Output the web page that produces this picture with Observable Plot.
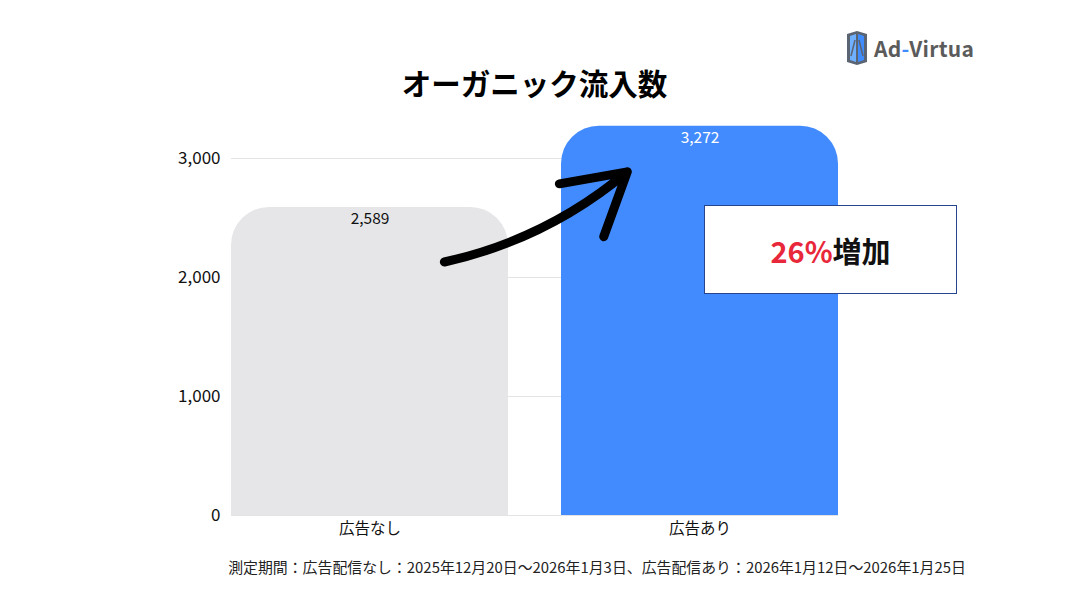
<!DOCTYPE html>
<html>
<head>
<meta charset="utf-8">
<script src="https://cdn.jsdelivr.net/npm/d3@7"></script>
<script src="https://cdn.jsdelivr.net/npm/@observablehq/plot@0.6"></script>
<style>
  html, body { margin: 0; padding: 0; background: #fff; }
  body { font-family: "Noto Sans CJK JP", "Noto Sans", sans-serif; }
  #wrap { position: relative; width: 1069px; height: 591px; overflow: hidden; }
  #chart { position: absolute; left: 0; top: 0; }
  #title { position: absolute; left: 0; top: 64px; width: 1069px; text-align: center;
           font-size: 29.5px; font-weight: 700; line-height: 36px; color: #000; }
  #caption { position: absolute; left: 0; top: 556px; width: 1194px; text-align: center;
             font-size: 14.9px; line-height: 22px; color: #222; }
  #callout { position: absolute; left: 704px; top: 205px; width: 253px; height: 89px;
             box-sizing: border-box; border: 1.6px solid #27458f; background: #fff;
             display: flex; align-items: center; justify-content: center;
             font-size: 29px; font-weight: 700; color: #111; }
  #callout .pct { color: #e8283a; }
  #logo { position: absolute; left: 844px; top: 30px; display: flex; align-items: center; }
  #logo .txt { font-family: "Noto Sans CJK JP", sans-serif; font-weight: 700; font-size: 21px;
               color: #5b5b5b; margin-left: 4px; letter-spacing: 0.3px; }
  #logo .dash { color: #3f8cff; }
</style>
</head>
<body>
<div id="wrap">
  <div id="chart"></div>
  <div id="title"></div>
  <div id="logo">
    <svg width="26" height="36" viewBox="0 0 26 36">
      <polygon points="3,4 13,1 23,4 23,32 13,35 3,32" fill="#5a6472"/>
      <polygon points="6,6 12,4 12,32 6,30" fill="#6fb0ff"/>
      <polygon points="14,4 20,6 20,30 14,32" fill="#3f8cff"/>
      <path d="M7,26 L11,10 M15,10 L19,26" stroke="#5a6472" stroke-width="1.5" fill="none"/>
    </svg>
    <span class="txt">Ad<span class="dash">-</span>Virtua</span>
  </div>
  <div id="callout"><span class="pct"></span><span class="word"></span></div>
  <div id="caption"></div>
</div>
<script>
// ---- data ----
const categories = ["広告なし", "広告あり"];
const values = [2589, 3272];
const barColors = ["#e6e6e8", "#428bff"];
const labelColors = ["#111111", "#ffffff"];
const yTicks = [0, 1000, 2000, 3000];
const yDomain = [0, 3300];
const titleText = "オーガニック流入数";
const calloutPct = "26%";
const calloutWord = "増加";
const captionText = "測定期間：広告配信なし：2025年12月20日～2026年1月3日、広告配信あり：2026年1月12日～2026年1月25日";
// arrow annotation (from first category to second, in data units)
const arrowFrom = ["広告なし", 2049];
const arrowTo = ["広告あり", 3548];

const rows = categories.map((c, i) => ({category: c, value: values[i], color: barColors[i], labelColor: labelColors[i]}));
const arrowRows = [{x1: arrowFrom[0], y1: arrowFrom[1], x2: arrowTo[0], y2: arrowTo[1]}];
const fmt = d3.format(",");

document.getElementById("title").textContent = titleText;
document.querySelector("#callout .pct").textContent = calloutPct;
document.querySelector("#callout .word").textContent = calloutWord;
document.getElementById("caption").textContent = captionText;

const chart = Plot.plot({
  width: 1069,
  height: 591,
  marginLeft: 231,
  marginRight: 231,
  marginTop: 122.3,
  marginBottom: 76,
  style: {fontFamily: "'Noto Sans CJK JP', sans-serif", fontSize: "15px", color: "#111", background: "transparent"},
  x: {domain: categories, paddingInner: 0.161, paddingOuter: 0, label: null},
  y: {domain: yDomain, label: null},
  marks: [
    Plot.gridY(yTicks, {stroke: "#e3e3e3", strokeOpacity: 1, strokeWidth: 1}),
    Plot.barY(rows, {x: "category", y: "value", fill: "color", rx: 38}),
    Plot.barY(rows, {x: "category", y: d => d.value / 2, fill: "color"}),
    Plot.ruleY([0], {stroke: "#e3e3e3", strokeWidth: 1}),
    Plot.axisY(yTicks, {tickSize: 0, tickPadding: 11, tickFormat: fmt, fontSize: 17, fill: "#111"}),
    Plot.axisX(categories, {tickSize: 0, tickPadding: 7, fontSize: 15.5, fill: "#111"}),
    Plot.text(rows, {x: "category", y: "value", text: d => fmt(d.value), dy: 12, fill: "labelColor", fontSize: 15.5}),
    Plot.arrow(arrowRows, {x1: "x1", y1: "y1", x2: "x2", y2: "y2", bend: -26, insetStart: 75, insetEnd: 107,
      stroke: "#000", strokeWidth: 9, headLength: 11.5, strokeLinecap: "round", strokeLinejoin: "round"})
  ]
});
document.getElementById("chart").appendChild(chart);
</script>
</body>
</html>
